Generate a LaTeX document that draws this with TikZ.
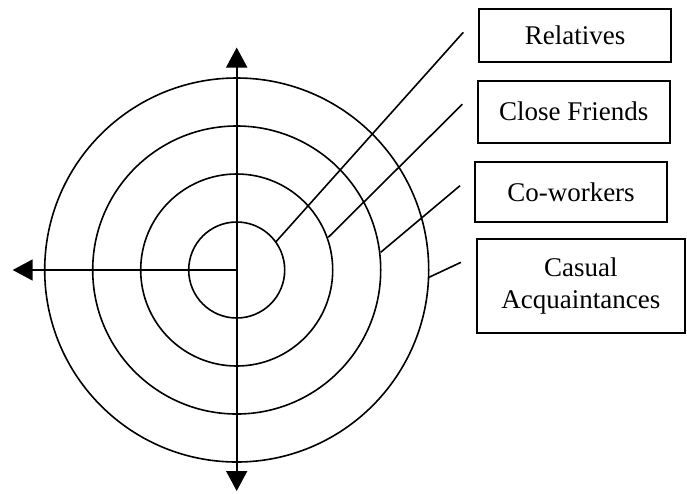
\documentclass[tikz,border=0pt]{standalone}
\usepackage{fontspec}
\setmainfont{Liberation Serif}
\usetikzlibrary{arrows.meta}
\begin{document}
\begin{tikzpicture}[x=1pt,y=-1pt,
  ring/.style={draw,line width=1.6pt},
  axis/.style={draw,line width=1.7pt,-{Triangle[length=20pt,width=21pt]}},
  lbl/.style={draw,line width=2pt,align=center,inner sep=0pt,
    font=\fontsize{27}{32}\selectfont},
  lead/.style={draw,line width=1.6pt}]
\useasboundingbox (0,0) rectangle (687,493);
\coordinate (c) at (236.7,270);
\draw[ring] (c) circle[radius=48];
\draw[ring] (c) circle[radius=96];
\draw[ring] (c) circle[radius=144];
\draw[ring] (c) circle[radius=192];
\coordinate (top) at (236.7,47.5);
\coordinate (bot) at (236.7,491);
\coordinate (left) at (12.7,270);
\draw[axis] (c) -- (top);
\draw[axis] (c) -- (bot);
\draw[axis] (c) -- (left);
\node[lbl,minimum width=192pt,minimum height=53.3pt] (rel) at (575,35.7) {Relatives};
\node[lbl,minimum width=192.3pt,minimum height=62pt] (cf) at (573.8,111.7) {Close Friends};
\node[lbl,minimum width=192.6pt,minimum height=59.7pt] (cw) at (571,192.2) {Co-workers};
\node[lbl,minimum width=208.3pt,minimum height=94.6pt] (ca) at (580.8,286) {Casual\\Acquaintances};
\coordinate (r1) at (276,241.7);   \coordinate (r2) at (463.3,32.3);
\coordinate (f1) at (328.3,237.3); \coordinate (f2) at (462.3,104.3);
\coordinate (w1) at (380.7,252.3); \coordinate (w2) at (460,185.7);
\coordinate (a1) at (429,277.3);   \coordinate (a2) at (461,262.3);
\draw[lead] (r1) -- (r2);
\draw[lead] (f1) -- (f2);
\draw[lead] (w1) -- (w2);
\draw[lead] (a1) -- (a2);
\end{tikzpicture}
\end{document}
